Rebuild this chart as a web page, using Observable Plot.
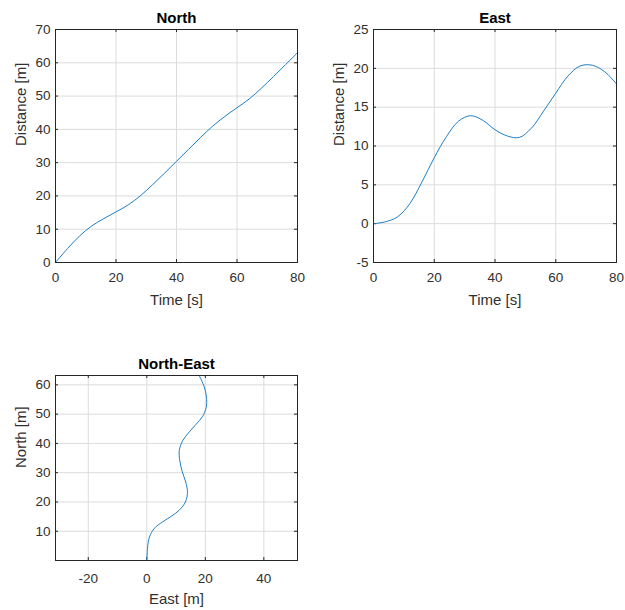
<!DOCTYPE html>
<html><head><meta charset="utf-8">
<script src="https://cdn.jsdelivr.net/npm/d3@7"></script>
<script src="https://cdn.jsdelivr.net/npm/@observablehq/plot@0.6"></script>
<style>
body{margin:0;background:#fff;}
#fig{position:relative;width:625px;height:610px;font-family:"Liberation Sans",Arial,sans-serif;background:#fff;}
#fig .panel{position:absolute;}
</style></head><body><div id="fig"></div>
<script>
// ---- data ----
const time  = [0, 4, 8, 12, 16, 20, 24, 28, 32, 36, 40, 44, 48, 52, 56, 60, 64, 68, 72, 76, 80];
const north = [0, 4.2, 8.0, 11.0, 13.2, 15.2, 17.3, 20.0, 23.3, 26.8, 30.4, 34.0, 37.6, 41.0, 43.9, 46.5, 49.1, 52.3, 55.8, 59.4, 63.0];
const east  = [0, 0.25, 0.9, 2.6, 5.4, 8.5, 11.2, 13.2, 13.9, 13.3, 12.1, 11.3, 11.1, 12.3, 14.5, 16.8, 19.0, 20.3, 20.4, 19.6, 18.0];

const timeTicks  = [0, 20, 40, 60, 80];
const northTicks = [0, 10, 20, 30, 40, 50, 60, 70];
const eastTicks  = [-5, 0, 5, 10, 15, 20, 25];
const neEastTicks  = [-20, 0, 20, 40];
const neNorthTicks = [10, 20, 30, 40, 50, 60];

const rows = time.map((t, i) => ({t, n: north[i], e: east[i]}));

const fig = document.getElementById("fig");
const FONT = '"Liberation Sans", Arial, sans-serif';
const fmt = d => String(d); // hyphen-minus, as in the reference

function panel(o) {
  const fh = o.height - o.mt - o.mb;
  const fw = o.width - o.ml - o.mr;
  const plot = Plot.plot({
    width: o.width, height: o.height,
    marginLeft: o.ml, marginRight: o.mr, marginTop: o.mt, marginBottom: o.mb,
    x: {domain: o.xDomain},
    y: {domain: o.yDomain},
    style: {fontFamily: FONT, fontSize: "13.5px", color: "#303030", background: "transparent", overflow: "visible"},
    marks: [
      Plot.gridX(o.xTicks, {stroke: "#dcdcdc", strokeOpacity: 1}),
      Plot.gridY(o.yTicks, {stroke: "#dcdcdc", strokeOpacity: 1}),
      Plot.tickX(o.xTicks, {x: d => d, insetTop: fh - 3, stroke: "#262626"}),
      Plot.tickX(o.xTicks, {x: d => d, insetBottom: fh - 3, stroke: "#262626"}),
      Plot.tickY(o.yTicks, {y: d => d, insetRight: fw - 3, stroke: "#262626"}),
      Plot.tickY(o.yTicks, {y: d => d, insetLeft: fw - 3, stroke: "#262626"}),
      Plot.axisX(o.xTicks, {tickSize: 0, tickPadding: o.xPad, label: null, fontSize: 13.5, tickFormat: fmt}),
      Plot.axisY(o.yTicks, {tickSize: 0, tickPadding: 5, label: null, fontSize: 13.5, tickFormat: fmt}),
      Plot.line(rows, {x: o.x, y: o.y, stroke: "#1f7fc4", strokeWidth: 1, curve: "catmull-rom"}),
      Plot.frame({stroke: "#262626", strokeWidth: 1}),
      Plot.text([o.title], {text: d => d, frameAnchor: "top", dy: -7, lineAnchor: "bottom", fontWeight: "bold", fontSize: 15, fill: "#000"}),
      Plot.text([o.xLabel], {text: d => d, frameAnchor: "bottom", dy: o.xLabelDy, lineAnchor: "bottom", fontSize: 15, fill: "#303030"}),
      Plot.text([o.yLabel], {text: d => d, frameAnchor: "left", dx: -34, rotate: -90, fontSize: 15, fill: "#303030"})
    ]
  });
  const div = document.createElement("div");
  div.className = "panel";
  div.style.left = o.left + "px";
  div.style.top = o.top + "px";
  div.appendChild(plot);
  fig.appendChild(div);
}

panel({left: 0, top: 0, width: 310, height: 310, ml: 55, mr: 13, mt: 29, mb: 48,
  x: "t", y: "n", xDomain: [0, 80], yDomain: [0, 70], xTicks: timeTicks, yTicks: northTicks,
  xPad: 9.5, xLabelDy: 42, title: "North", xLabel: "Time [s]", yLabel: "Distance [m]"});

panel({left: 310, top: 0, width: 315, height: 310, ml: 63, mr: 9, mt: 29, mb: 48,
  x: "t", y: "e", xDomain: [0, 80], yDomain: [-5, 25], xTicks: timeTicks, yTicks: eastTicks,
  xPad: 9.5, xLabelDy: 42, title: "East", xLabel: "Time [s]", yLabel: "Distance [m]"});

panel({left: 0, top: 340, width: 310, height: 270, ml: 55, mr: 13, mt: 35, mb: 50,
  x: "e", y: "n", xDomain: [-31.2, 51.5], yDomain: [0, 63.2], xTicks: neEastTicks, yTicks: neNorthTicks,
  xPad: 12.5, xLabelDy: 43, title: "North-East", xLabel: "East [m]", yLabel: "North [m]"});
</script>
</body></html>
